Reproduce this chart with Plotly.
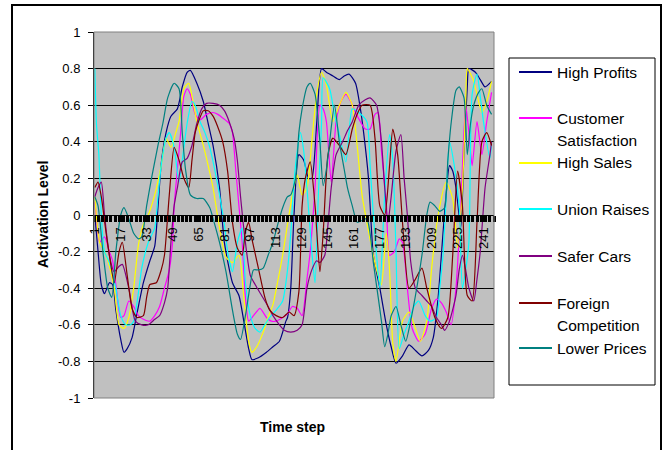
import plotly.graph_objects as go

# ---------------- data ----------------
series_names = ["High Profits", "Customer Satisfaction", "High Sales", "Union Raises",
                "Safer Cars", "Foreign Competition", "Lower Prices"]
legend_lines = [["High Profits"], ["Customer", "Satisfaction"], ["High Sales"], ["Union Raises"],
                ["Safer Cars"], ["Foreign", "Competition"], ["Lower Prices"]]
series_colors = ["#000080", "#FF00FF", "#FFFF00", "#00FFFF", "#800080", "#800000", "#008080"]

x_tick_labels = [str(v) for v in range(1, 242, 16)]
y_tick_values = [-1, -0.8, -0.6, -0.4, -0.2, 0, 0.2, 0.4, 0.6, 0.8, 1]
y_tick_labels = ["-1", "-0.8", "-0.6", "-0.4", "-0.2", "0", "0.2", "0.4", "0.6", "0.8", "1"]

profits_t = [1, 3, 5, 7, 10, 12, 14, 17, 19, 21, 24, 27, 31, 35, 38, 40, 42, 45, 48, 52, 55, 58, 60,
             64, 68, 71, 74, 78, 81, 86, 90, 93, 96, 98, 102, 107, 111, 115, 119, 120, 122, 124, 127,
             130, 133, 135, 138, 141, 144, 148, 152, 155, 158, 162, 165, 167, 170, 173, 177, 181, 184,
             187, 191, 195, 199, 203, 207, 210, 213, 216, 218, 220, 222, 224, 227, 229, 231, 232, 236,
             239, 242, 246]
profits_v = [0.0, -0.2, -0.38, -0.43, -0.37, -0.38, -0.52, -0.68, -0.75, -0.73, -0.67, -0.54, -0.37,
             -0.25, -0.17, 0.04, 0.28, 0.45, 0.54, 0.58, 0.7, 0.78, 0.79,
             0.72, 0.62, 0.5, 0.38, 0.15, -0.15, -0.37, -0.44, -0.58, -0.73, -0.79, -0.78, -0.75, -0.72,
             -0.69, -0.58, -0.56, -0.4, 0.0, 0.33,
             0.3, 0.2, 0.2, 0.5, 0.8, 0.78, 0.76, 0.74, 0.76, 0.77, 0.72, 0.58, 0.45, 0.2, -0.22, -0.4,
             -0.6, -0.72,
             -0.81, -0.77, -0.71, -0.74, -0.77, -0.74, -0.67, -0.45, -0.1, 0.12, 0.27, 0.24, 0.15, -0.07,
             0.35, 0.7, 0.8, 0.78,
             0.74, 0.7, 0.73]

satisfaction_t = [1, 3, 4, 7, 10, 12, 14, 17, 19, 22, 25, 28, 31, 35, 38, 41, 44, 47, 49, 50, 52, 54,
                  56, 58, 60, 63, 66, 70, 74, 77, 80, 84, 86, 88, 90, 92, 94, 96, 99, 103, 107, 110, 113,
                  117, 120, 123, 126, 129, 132, 134, 137, 140, 142, 144, 147, 150, 153, 156, 159, 162,
                  165, 168, 171, 174, 176, 178, 181, 183, 186, 189, 191, 194, 197, 201, 205, 209, 212,
                  215, 218, 221, 224, 227, 230, 232, 234, 237, 240, 243, 246]
satisfaction_v = [0.07, -0.1, -0.15, -0.12, -0.2, -0.25, -0.38, -0.56, -0.55, -0.47, -0.5, -0.55, -0.57,
                  -0.58, -0.55, -0.5, -0.4, -0.3, -0.15, 0.05, 0.25, 0.45,
                  0.65, 0.69, 0.66, 0.55, 0.52, 0.55, 0.56, 0.55, 0.53, 0.5, 0.45, 0.25, 0.05, -0.15, -0.45,
                  -0.58, -0.55, -0.51, -0.56, -0.58, -0.58,
                  -0.56, -0.54, -0.5, -0.51, -0.55, -0.35, -0.2, 0.15, 0.6, 0.58, 0.51, 0.18, 0.51, 0.62,
                  0.66, 0.62, 0.56,
                  0.51, 0.47, 0.47, 0.55, 0.56, 0.35, 0.07, -0.22, -0.2, -0.13, -0.15, -0.4, -0.62, -0.69,
                  -0.65, -0.51, -0.46,
                  -0.48, -0.53, -0.6, -0.4, 0.05, 0.6, 0.45, 0.27, 0.51, 0.33, 0.51, 0.67]

sales_t = [1, 4, 7, 10, 13, 16, 19, 22, 25, 28, 31, 34, 38, 42, 45, 48, 51, 53, 56, 59, 61, 64, 68, 71,
           74, 78, 82, 86, 90, 93, 96, 98, 101, 105, 108, 111, 114, 117, 120, 123, 126, 129, 132, 135,
           138, 141, 144, 148, 152, 156, 160, 163, 166, 169, 172, 175, 178, 181, 183, 185, 187, 191,
           195, 199, 202, 206, 209, 213, 218, 222, 225, 228, 230, 231, 235, 238, 240, 243, 246]
sales_v = [0.1, -0.15, -0.2, -0.28, -0.4, -0.6, -0.62, -0.56, -0.4, -0.16, -0.05, 0.0, 0.11, 0.27, 0.42,
           0.37, 0.45, 0.51, 0.69, 0.72, 0.65, 0.51, 0.38, 0.27,
           0.15, -0.07, -0.23, -0.26, -0.22, -0.45, -0.69, -0.75, -0.72, -0.64, -0.56, -0.49, -0.36,
           -0.22, -0.05, 0.11, 0.22, 0.11, 0.15, 0.4,
           0.66, 0.78, 0.71, 0.51, 0.6, 0.67, 0.6, 0.38, 0.11, -0.04, -0.18, -0.3, -0.38, -0.1, -0.3,
           -0.7, -0.8, -0.58,
           -0.53, -0.62, -0.69, -0.58, -0.29, 0.0, 0.18, 0.09, -0.18, 0.15, 0.6, 0.8, 0.73, 0.62, 0.56,
           0.62, 0.73]

union_t = [1, 2, 3.5, 5, 7, 10, 14, 17, 20, 23, 25, 28, 30, 34, 38, 40, 42, 45, 47, 50, 53, 56, 58, 61,
           63, 66, 69, 72, 75, 78, 81, 83, 86, 89, 91, 92, 94, 97, 100, 103, 106, 109, 113, 117, 120,
           122, 124, 126, 128, 130, 132, 135, 137, 139, 141, 142, 146, 149, 152, 156, 158, 160, 164,
           169, 171, 173, 175, 177, 180, 183, 185, 187, 189, 192, 195, 198, 201, 205, 208, 212, 214,
           216, 218, 220, 223, 226, 228, 230, 232, 234, 237, 239, 241, 245, 246]
union_v = [0.8, 0.5, 0.33, 0.0, -0.2, -0.26, -0.4, -0.55, -0.6, -0.6, -0.58, -0.42, -0.29, -0.15, -0.07,
           0.1, 0.27, 0.42, 0.45, 0.37, 0.18, 0.37, 0.5, 0.62,
           0.6, 0.51, 0.45, 0.37, 0.25, 0.11, -0.05, -0.2, -0.31, -0.15, -0.09, -0.07, -0.37, -0.55,
           -0.62, -0.64, -0.6, -0.56, -0.52, -0.47, -0.3,
           -0.1, 0.18, 0.35, 0.45, 0.35, 0.15, -0.2, -0.37, 0.1, 0.5, 0.75, 0.69, 0.55, 0.44, 0.29,
           0.45, 0.58, 0.56,
           0.51, 0.27, 0.0, -0.22, -0.4, 0.11, 0.44, 0.3, -0.2, -0.73, -0.65, -0.58, -0.5, -0.47,
           -0.55, -0.58, -0.56, -0.4,
           -0.22, 0.1, 0.4, 0.27, 0.05, -0.4, -0.3, -0.15, 0.66, 0.77, 0.65, 0.51, 0.31, 0.4]

cars_t = [1, 3, 5, 7, 10, 13, 16, 18, 22, 26, 30, 34, 38, 41, 44, 46, 48, 50, 52, 55, 58, 61, 64, 67,
          70, 74, 78, 81, 84, 87, 89, 91, 94, 97, 100, 104, 108, 111, 115, 118, 122, 126, 129, 132, 135,
          138, 140, 143, 145, 147, 150, 154, 157, 160, 164, 168, 171, 175, 178, 180, 182, 184, 187, 190,
          192, 194, 196, 199, 203, 206, 209, 212, 215, 217, 220, 224, 226, 228, 230, 232, 235, 237, 239,
          242, 245, 246]
cars_v = [0.1, 0.15, 0.18, 0.0, -0.22, -0.31, -0.28, -0.27, -0.4, -0.58, -0.6, -0.6, -0.57, -0.55, -0.48,
          -0.4, -0.15, 0.05, 0.15, 0.29, 0.31, 0.38, 0.5, 0.58,
          0.61, 0.61, 0.6, 0.57, 0.51, 0.42, 0.3, 0.1, -0.15, -0.33, -0.38, -0.44, -0.5, -0.55, -0.6,
          -0.63, -0.64, -0.63, -0.6, -0.4, -0.3,
          -0.25, -0.26, -0.22, -0.05, 0.15, 0.33, 0.4, 0.46, 0.51, 0.6, 0.63, 0.64, 0.6, 0.4, 0.15,
          -0.04, 0.1, 0.35, 0.44,
          0.2, 0.0, -0.25, -0.4, -0.44, -0.47, -0.5, -0.56, -0.6, -0.63, -0.58, -0.44, -0.3, -0.22,
          -0.3, -0.4, -0.47, -0.35, -0.2,
          0.15, 0.33, 0.4]

foreign_t = [1, 3, 5, 8, 10, 13, 16, 18, 21, 24, 27, 31, 33, 35, 39, 42, 44, 47, 50, 53, 56, 59, 61, 63,
             65, 68, 71, 74, 77, 80, 83, 86, 89, 92, 94, 96, 98, 102, 106, 109, 113, 117, 121, 124, 127,
             129, 131, 134, 137, 140, 142, 145, 148, 152, 156, 160, 163, 166, 171, 174, 177, 180, 183,
             185, 188, 191, 195, 199, 203, 206, 211, 215, 219, 222, 225, 228, 231, 234, 237, 240, 243,
             246]
foreign_v = [0.15, 0.18, 0.1, -0.1, -0.22, -0.37, -0.2, -0.15, -0.33, -0.51, -0.56, -0.55, -0.45, -0.38,
             -0.37, -0.3, -0.22, 0.11, 0.37, 0.3, 0.2, 0.15, 0.3, 0.45,
             0.51, 0.57, 0.57, 0.54, 0.48, 0.4, 0.24, -0.04, -0.18, -0.22, -0.09, -0.04, -0.13, -0.29,
             -0.45, -0.52, -0.55, -0.56, -0.53, -0.55, -0.42,
             0.05, 0.2, 0.29, 0.05, -0.31, -0.1, 0.33, 0.42, 0.38, 0.33, 0.47, 0.55, 0.6, 0.6, 0.42,
             0.05, 0.0, 0.27,
             0.47, 0.33, -0.04, -0.4, -0.35, -0.29, -0.4, -0.56, -0.62, -0.56, -0.22, 0.24, 0.05, -0.44,
             -0.47, -0.04, 0.4, 0.45,
             0.38]

prices_t = [1, 3, 6, 9, 11.5, 14, 17, 19, 22, 25, 28, 30, 33, 36, 40, 43, 46, 50, 53, 55, 57, 60, 64,
            68, 72, 75, 78, 82, 86, 89, 91, 94, 97, 99, 102, 105, 108, 111, 114, 117, 120, 122, 125, 127,
            129, 132, 134, 137, 140, 142, 144, 146, 149, 152, 155, 157, 160, 163, 166, 169, 171, 173,
            176, 178, 180, 182, 184, 187, 190, 193, 196, 199, 203, 206, 208, 211, 214, 217, 219, 221,
            224, 226, 229, 231, 233, 235, 238, 240, 243, 246]
prices_v = [0.1, 0.05, -0.2, -0.4, -0.45, -0.2, 0.0, 0.04, -0.02, -0.1, -0.13, -0.12, 0.05, 0.2, 0.38,
            0.5, 0.64, 0.72, 0.69, 0.45, 0.25, 0.11, 0.09,
            0.09, 0.04, -0.05, -0.15, -0.31, -0.52, -0.65, -0.68, -0.55, -0.38, -0.3, -0.3, -0.29, -0.22,
            -0.15, -0.05, 0.04, 0.1, 0.11, 0.2, 0.45,
            0.58, 0.7, 0.72, 0.66, 0.4, 0.16, 0.25, 0.4, 0.6, 0.4, 0.25, 0.15, 0.05, -0.04, -0.03, -0.02,
            -0.1, -0.26,
            -0.45, -0.58, -0.72, -0.65, -0.55, -0.5, -0.6, -0.69, -0.58, -0.44, -0.22, 0.0, 0.07, 0.05,
            0.02, 0.04, 0.3, 0.5,
            0.68, 0.7, 0.64, 0.33, 0.5, 0.6, 0.67, 0.69, 0.6, 0.55]

series_t = [profits_t, satisfaction_t, sales_t, union_t, cars_t, foreign_t, prices_t]
series_v = [profits_v, satisfaction_v, sales_v, union_v, cars_v, foreign_v, prices_v]

# ---------------- geometry helpers (pixel -> paper) ----------------
W, H = 666, 450
ML, MR, MT, MB = 94, 172, 32, 52
PW, PH = W - ML - MR, H - MT - MB


def px(x):
    return (x - ML) / PW


def py(y):
    return (H - MB - y) / PH


FONT = "Arial, Liberation Sans, sans-serif"

fig = go.Figure()
for name, color, t, v in zip(series_names, series_colors, series_t, series_v):
    fig.add_trace(go.Scatter(x=t, y=v, mode="lines", name=name, showlegend=False,
                             line=dict(color=color, width=1.2, shape="spline", smoothing=0.6)))

shapes = []
annotations = []
# outer chart frame
shapes.append(dict(type="rect", xref="paper", yref="paper", x0=px(12), x1=px(661), y0=py(462), y1=py(5),
                   line=dict(color="black", width=2), layer="above"))
# plot-area border
shapes.append(dict(type="rect", xref="paper", yref="paper", x0=0, x1=1, y0=0, y1=1,
                   line=dict(color="#808080", width=1), layer="above"))
# legend box
shapes.append(dict(type="rect", xref="paper", yref="paper", x0=px(509), x1=px(655), y0=py(385), y1=py(58),
                   line=dict(color="black", width=1), fillcolor="white", layer="above"))
legend_y = [72, 118, 163, 209, 256, 303, 348]
for lines, color, ly in zip(legend_lines, series_colors, legend_y):
    shapes.append(dict(type="line", xref="paper", yref="paper", x0=px(519), x1=px(552), y0=py(ly), y1=py(ly),
                       line=dict(color=color, width=2), layer="above"))
    for k, txt in enumerate(lines):
        annotations.append(dict(text=txt, xref="paper", yref="paper", x=px(555), y=py(ly + 22 * k),
                                xanchor="left", yanchor="middle", showarrow=False,
                                font=dict(family=FONT, size=15.5, color="black")))

annotations.append(dict(text="<b>Activation Level</b>", xref="paper", yref="paper", x=px(43), y=0.5,
                        textangle=-90, showarrow=False, xanchor="center", yanchor="middle",
                        font=dict(family=FONT, size=14, color="black")))
annotations.append(dict(text="<b>Time step</b>", xref="paper", yref="paper", x=px(292), y=py(427),
                        showarrow=False, xanchor="center", yanchor="middle",
                        font=dict(family=FONT, size=14, color="black")))

fig.update_layout(
    width=W, height=H,
    margin=dict(l=ML, r=MR, t=MT, b=MB, pad=0),
    paper_bgcolor="white", plot_bgcolor="#C0C0C0",
    showlegend=False,
    shapes=shapes, annotations=annotations,
    font=dict(family=FONT, size=13, color="black"),
    xaxis=dict(range=[0.5, 247.5], anchor="free", position=0.5, showline=True, linecolor="black",
               linewidth=1, tickmode="array", tickvals=[int(s) for s in x_tick_labels], ticktext=x_tick_labels,
               ticks="outside", ticklen=6, tickwidth=2, tickcolor="black", tickangle=-90,
               tickfont=dict(family=FONT, size=13, color="black"), showgrid=False, zeroline=False,
               minor=dict(ticks="outside", dtick=2.6, tick0=0.5, ticklen=6, tickwidth=3, tickcolor="black")),
    yaxis=dict(range=[-1, 1], tickmode="array", tickvals=y_tick_values, ticktext=y_tick_labels,
               showline=True, linecolor="black", linewidth=1, ticks="outside", ticklen=5, tickcolor="black",
               showgrid=True, gridcolor="black", gridwidth=1, zeroline=False,
               tickfont=dict(family=FONT, size=13, color="black"), ticklabelstandoff=5),
)

fig.write_html("out.html")
